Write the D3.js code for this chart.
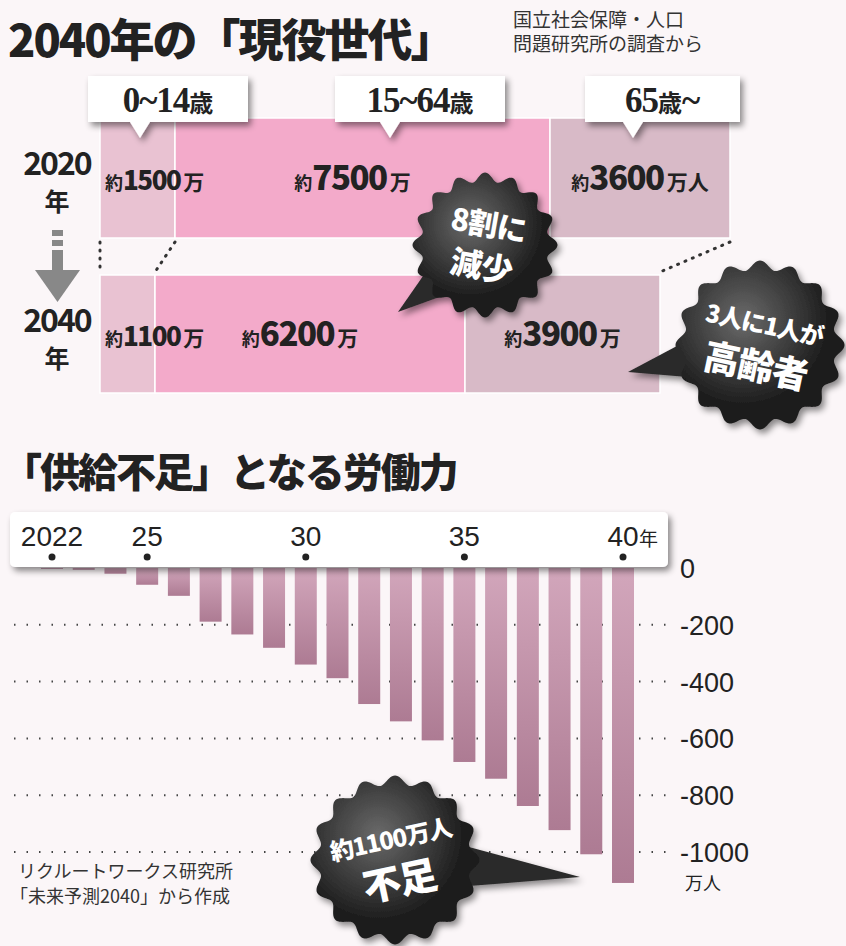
<!DOCTYPE html>
<html><head><meta charset="utf-8">
<script src="https://cdn.jsdelivr.net/npm/d3@7"></script>
<style>body{margin:0;background:#fbf6f8}svg{display:block}</style>
</head><body><div id="c"></div>
<script>
// population by age group (万人)
const ageGroups = ['0~14歳', '15~64歳', '65歳~'];
const popYears = ['2020', '2040'];
const pop2020 = [1500, 7500, 3600];
const pop2040 = [1100, 6200, 3900];
const popLabels2020 = ['約1500万', '約7500万', '約3600万人'];
const popLabels2040 = ['約1100万', '約6200万', '約3900万'];

// labour shortage (万人)
const years = d3.range(2022, 2041);
const shortage = [-3, -6, -20, -59, -98, -189, -234, -281, -340, -388, -479, -540, -607, -683, -742, -838, -923, -1008, -1109];
const yTicks = [0, -200, -400, -600, -800, -1000];
const yearTicks = [2022, 2025, 2030, 2035, 2040];

const W = 846, H = 946;
const svg = d3.select('#c').append('svg').attr('width', W).attr('height', H);
const jp = '"Noto Sans CJK JP", sans-serif';
const narrow = '"Liberation Sans Narrow", "Liberation Sans", sans-serif';
const defs = svg.append('defs');
const sh = defs.append('filter').attr('id', 'sh').attr('x', '-20%').attr('y', '-20%').attr('width', '140%').attr('height', '160%');
sh.append('feDropShadow').attr('dx', 3).attr('dy', 4).attr('stdDeviation', 3).attr('flood-color', '#000').attr('flood-opacity', 0.45);
const bg = defs.append('linearGradient').attr('id', 'bg').attr('x1', 0).attr('x2', 0).attr('y1', 0).attr('y2', 1);
bg.append('stop').attr('offset', 0).attr('stop-color', '#d2a6bb');
bg.append('stop').attr('offset', 1).attr('stop-color', '#ad7b93');
const dg = defs.append('radialGradient').attr('id', 'dg').attr('cx', '40%').attr('cy', '35%');
dg.append('stop').attr('offset', 0).attr('stop-color', '#6a6a6a');
dg.append('stop').attr('offset', 1).attr('stop-color', '#1e1e1e');

// titles
svg.append('text').attr('x', 8).attr('y', 57).attr('font-family', jp).attr('font-weight', 900)
  .attr('font-size', 45).attr('letter-spacing', -2).attr('fill', '#222').text('2040年の「現役世代」');
svg.append('text').attr('x', 513).attr('y', 27).attr('font-family', jp).attr('font-size', 19).attr('fill', '#333').text('国立社会保障・人口');
svg.append('text').attr('x', 513).attr('y', 51).attr('font-family', jp).attr('font-size', 19).attr('fill', '#333').text('問題研究所の調査から');

// population bars
const px = d3.scaleLinear().domain([0, 12600]).range([100, 730]);
const rows = [
  {year: '2020', vals: pop2020, labels: popLabels2020, y: 118, h: 120},
  {year: '2040', vals: pop2040, labels: popLabels2040, y: 275, h: 118}
];
const fills = ['#e9c2d2', '#f3aaca', '#d8bac7'];
rows.forEach(r => {
  let acc = 0;
  const segs = r.vals.map((v, i) => { const s = {x0: acc, x1: acc + v, i, label: r.labels[i]}; acc += v; return s; });
  const g = svg.append('g');
  g.selectAll('rect').data(segs).join('rect')
    .attr('x', d => px(d.x0)).attr('y', r.y).attr('width', d => px(d.x1) - px(d.x0)).attr('height', r.h)
    .attr('fill', d => fills[d.i]).attr('stroke', '#fff').attr('stroke-width', 1.5);
  g.selectAll('text').data(segs).join('text')
    .attr('x', d => d.i === 0 ? px(d.x0) + 5 : (px(d.x0) + px(d.x1)) / 2 + (d.i === 1 ? -10 : 0))
    .attr('y', r.y + r.h / 2 + 12).attr('text-anchor', d => d.i === 0 ? 'start' : 'middle')
    .attr('font-family', jp).attr('font-weight', 700).attr('fill', '#222')
    .each(function(d) {
      const m = d.label.match(/(約)(\d+)(.*)/);
      const t = d3.select(this);
      t.append('tspan').attr('font-size', 18).text(m[1]);
      t.append('tspan').attr('font-size', d.i === 0 ? 26 : 33).attr('font-weight', 900).attr('letter-spacing', -1.5).text(m[2]);
      t.append('tspan').attr('font-size', 21).attr('dx', 3).text(m[3]);
    });
  svg.append('text').attr('x', 57).attr('y', r.y + 57).attr('text-anchor', 'middle').attr('font-family', jp)
    .attr('font-weight', 700).attr('font-size', 32).attr('letter-spacing', -2).attr('fill', '#222').text(r.year);
  svg.append('text').attr('x', 57).attr('y', r.y + 93).attr('text-anchor', 'middle').attr('font-family', jp)
    .attr('font-weight', 700).attr('font-size', 25).attr('fill', '#222').text('年');
});

// dotted connectors between rows
const conn = [[0, 0], [pop2020[0], pop2040[0]], [d3.sum(pop2020), d3.sum(pop2040)]];
svg.selectAll('line.conn').data(conn).join('line').attr('class', 'conn')
  .attr('x1', d => px(d[0])).attr('y1', 242).attr('x2', d => px(d[1])).attr('y2', 272)
  .attr('stroke', '#333').attr('stroke-width', 3).attr('stroke-dasharray', '1 7').attr('stroke-linecap', 'round');

// arrow
const ar = svg.append('g').attr('fill', '#888');
ar.append('rect').attr('x', 52).attr('y', 230).attr('width', 11).attr('height', 6);
ar.append('rect').attr('x', 52).attr('y', 240).attr('width', 11).attr('height', 6);
ar.append('rect').attr('x', 52).attr('y', 250).attr('width', 11).attr('height', 20);
ar.append('path').attr('d', 'M35,270 L80,270 L57.5,302 Z');

// age callouts
const callX = [[88, 248, 140], [335, 505, 390], [585, 740, 633]];
ageGroups.forEach((a, i) => {
  const [x0, x1, tx] = callX[i];
  svg.append('path').attr('filter', 'url(#sh)').attr('fill', '#fff')
    .attr('d', `M${x0},76 H${x1} V122 H${tx + 10} L${tx},138 L${tx - 10},122 H${x0} Z`);
  const t = svg.append('text').attr('x', (x0 + x1) / 2).attr('y', 112).attr('text-anchor', 'middle').attr('fill', '#222');
  const m = a.match(/(\d+)(~?)(\d*)(歳)(~?)/);
  t.append('tspan').attr('font-family', '"Liberation Serif", serif').attr('font-weight', 700).attr('font-size', 35)
    .attr('letter-spacing', -1).text(m[1] + m[2] + m[3]);
  t.append('tspan').attr('font-family', jp).attr('font-weight', 700).attr('font-size', 24).text(m[4]);
  if (m[5]) t.append('tspan').attr('font-family', '"Liberation Serif", serif').attr('font-weight', 700).attr('font-size', 35).text(m[5]);
});

// starburst bubbles
function burst(cx, cy, r, tail, lines, rot, sizes) {
  const n = 16, pts = [];
  for (let k = 0; k <= 360; k++) {
    const a = k / 360 * 2 * Math.PI;
    const rr = r + 4.5 * Math.cos(a * n);
    pts.push([cx + rr * Math.cos(a), cy + rr * Math.sin(a)]);
  }
  const g = svg.append('g').attr('filter', 'url(#sh)');
  const ang = Math.atan2(tail[1] - cy, tail[0] - cx);
  const b1 = [cx + r * 0.8 * Math.cos(ang - 0.35), cy + r * 0.8 * Math.sin(ang - 0.35)];
  const b2 = [cx + r * 0.8 * Math.cos(ang + 0.35), cy + r * 0.8 * Math.sin(ang + 0.35)];
  g.append('path').attr('d', `M${b1}L${tail}L${b2}Z`).attr('fill', '#2a2a2a');
  g.append('path').attr('d', d3.line()(pts)).attr('fill', 'url(#dg)');
  const t = svg.append('g').attr('transform', `translate(${cx},${cy}) rotate(${rot})`);
  lines.forEach((l, i) => {
    t.append('text').attr('y', (i - (lines.length - 1) / 2) * 42 + sizes[i] * 0.38)
      .attr('text-anchor', 'middle').attr('font-family', jp).attr('font-weight', 900)
      .attr('font-size', sizes[i]).attr('fill', '#fff').attr('letter-spacing', -1).text(l);
  });
}
burst(485, 245, 68, [398, 312], ['8割に', '減少'], 10, [30, 32]);
burst(760, 345, 80, [628, 372], ['3人に1人が', '高齢者'], 12, [24, 36]);

// ---- labour shortage chart
svg.append('text').attr('x', 2).attr('y', 487).attr('font-family', jp).attr('font-weight', 900)
  .attr('font-size', 40).attr('letter-spacing', -2).attr('fill', '#222').text('「供給不足」となる労働力');

const x = d3.scalePoint().domain(years).range([52, 623]);
const y = d3.scaleLinear().domain([0, -1000]).range([568, 852]);

svg.append('g').selectAll('line').data(yTicks.slice(1)).join('line')
  .attr('x1', 14).attr('x2', 672).attr('y1', d => y(d)).attr('y2', d => y(d))
  .attr('stroke', '#444').attr('stroke-width', 2).attr('stroke-dasharray', '1.5 11');

svg.append('g').selectAll('rect').data(years).join('rect')
  .attr('x', d => x(d) - 11).attr('width', 22)
  .attr('y', y(0)).attr('height', (d, i) => y(shortage[i]) - y(0)).attr('fill', 'url(#bg)');

svg.append('g').selectAll('text').data(yTicks).join('text')
  .attr('x', 680).attr('y', d => y(d) + 10).attr('font-family', narrow)
  .attr('font-size', 27).attr('fill', '#222').text(d => d === 0 ? '0' : '-' + Math.abs(d));
svg.append('text').attr('x', 685).attr('y', 890).attr('font-family', jp).attr('font-size', 18).attr('fill', '#222').text('万人');

// year header box
svg.append('rect').attr('x', 10).attr('y', 512).attr('width', 658).attr('height', 55).attr('rx', 5)
  .attr('fill', '#fff').attr('filter', 'url(#sh)');
svg.append('g').selectAll('circle').data(yearTicks).join('circle')
  .attr('cx', d => x(d)).attr('cy', 557).attr('r', 3.5).attr('fill', '#222');
svg.append('g').selectAll('text').data(yearTicks).join('text')
  .attr('x', d => x(d)).attr('y', 546).attr('text-anchor', 'middle')
  .attr('font-family', narrow).attr('font-size', 28).attr('fill', '#222')
  .text(d => d === 2022 ? '2022' : String(d).slice(2));
svg.append('text').attr('x', x(2040) + 16).attr('y', 546).attr('font-family', jp).attr('font-size', 19).attr('fill', '#222').text('年');

burst(395, 860, 80, [580, 877], ['約1100万人', '不足'], -12, [24, 38]);

svg.append('text').attr('x', 18).attr('y', 878).attr('font-family', jp).attr('font-size', 18).attr('fill', '#333').text('リクルートワークス研究所');
svg.append('text').attr('x', 10).attr('y', 903).attr('font-family', jp).attr('font-size', 18).attr('fill', '#333').text('「未来予測2040」から作成');
</script></body></html>
